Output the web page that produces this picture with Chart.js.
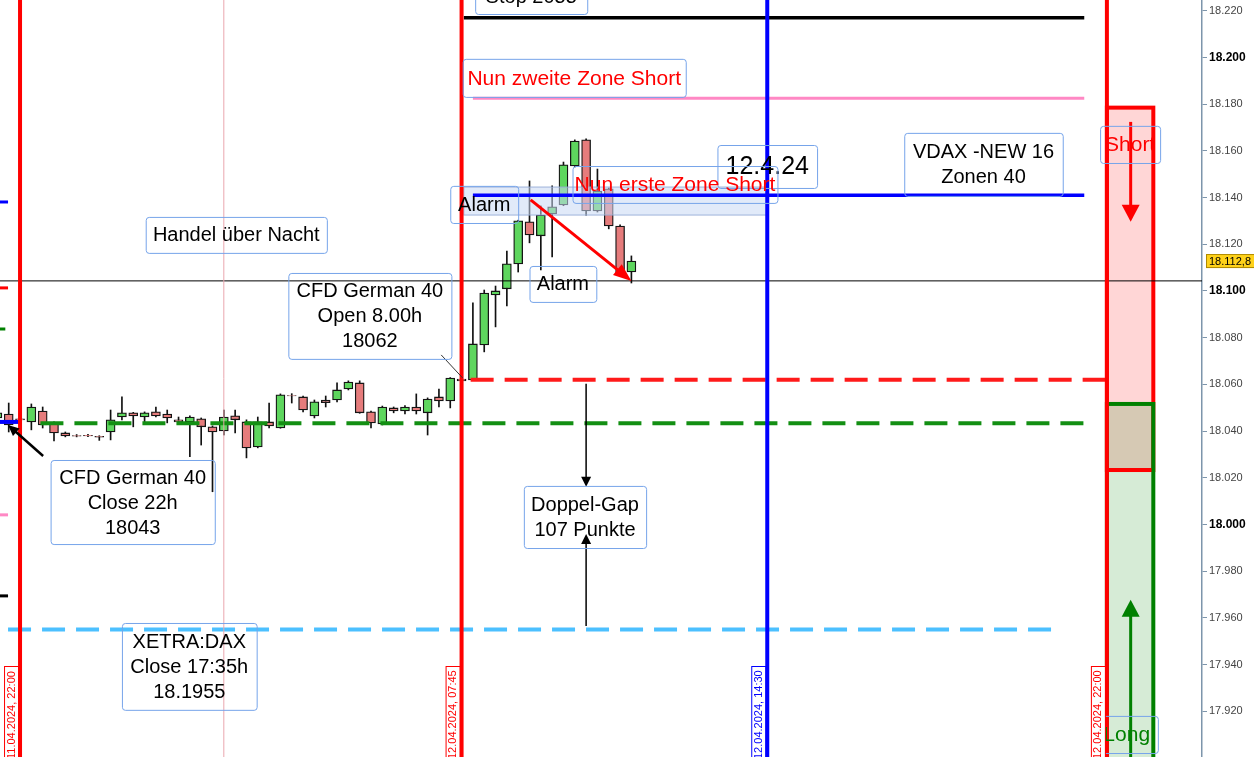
<!DOCTYPE html>
<html lang="de">
<head>
<meta charset="UTF-8">
<title>CFD German 40 – 15 Min</title>
<script src="https://cdn.jsdelivr.net/npm/chart.js"></script>
<style>
  html, body { margin: 0; padding: 0; background: #fff; }
  #wrap { width: 1254px; height: 757px; position: relative; }
</style>
</head>
<body>
<div id="wrap"><canvas id="kurs"></canvas></div>
<script>
// 15-Minuten-Kerzen, Slot 0 = 11.04.2024 22:00
const slots = [-2, -1, 0, 1, 2, 3, 4, 5, 6, 7, 8, 9, 10, 11, 12, 13, 14, 15, 16, 17, 18, 19,
  20, 21, 22, 23, 24, 25, 26, 27, 28, 29, 30, 31, 32, 33, 34, 35, 36, 37, 38, 39,
  40, 41, 42, 43, 44, 45, 46, 47, 48, 49, 50, 51, 52, 53, 54];
const opens = [18045.6, 18047.3, 18045.2, 18043.9, 18048.6, 18043.5, 18039.2, 18038.1, 18038.2, 18037.7,
  18039.6, 18046, 18047.8, 18046, 18048.2, 18047.3, 18044.8, 18043.9, 18045.2, 18041.8, 18040, 18046.5,
  18043.9, 18033.2, 18043.9, 18041.3, 18055.2, 18054.6, 18046.5, 18053.3, 18053.3, 18058, 18060.6, 18048.2,
  18043, 18049.9, 18048.6, 18050.3, 18047.8, 18054.6, 18052.9, 18062.3,
  18061.9, 18076.9, 18098.3, 18100.9, 18111.6, 18129.6, 18123.6, 18133, 18136.8, 18153.5, 18164.7,
  18134.3, 18143.7, 18127.8, 18108.1];
const highs = [18049, 18052, 18045.6, 18051.6, 18050.3, 18043.9, 18039.6, 18038.5, 18038.6, 18038,
  18049, 18054.6, 18048, 18048.2, 18050.3, 18049, 18046, 18046.5, 18045.6, 18042.2, 18049, 18049,
  18044.8, 18046, 18052, 18055.9, 18056, 18055, 18053.3, 18055, 18060.6, 18061.5, 18061.5, 18048.5,
  18050.7, 18050.3, 18050.9, 18055.9, 18054.2, 18058, 18062.9, 18062.7,
  18094.9, 18100.4, 18102.1, 18117.1, 18130.3, 18147.1, 18136.4, 18145, 18155.2, 18164.7, 18165.1,
  18152.2, 18144.1, 18128.3, 18115];
const lows = [18044, 18039.6, 18044.6, 18040.5, 18041.3, 18035.8, 18037.5, 18037.5, 18037.6, 18036,
  18036.2, 18044.8, 18041.8, 18043.9, 18046, 18043.5, 18043.5, 18029, 18034, 18014, 18038.3, 18039.2,
  18028.5, 18032.8, 18041.3, 18041.2, 18052, 18048.2, 18045.6, 18050.3, 18052.5, 18057.6, 18047.6, 18041.3,
  18042.6, 18047.8, 18047.3, 18047.3, 18038.3, 18050.3, 18049.9, 18061.2,
  18061.9, 18073.9, 18084.6, 18093.6, 18108.1, 18120.6, 18109, 18114.6, 18136.5, 18153.1, 18132.5,
  18133.8, 18126.6, 18107.3, 18103.4];
const closes = [18047.8, 18042.6, 18044.8, 18050.3, 18042.6, 18039.2, 18037.9, 18037.8, 18037.9, 18037.4,
  18044.8, 18047.8, 18046.5, 18047.8, 18046.5, 18045.6, 18043.9, 18046, 18041.8, 18039.6, 18046, 18044.8,
  18032.8, 18043.9, 18042.2, 18055.5, 18055, 18049, 18052.5, 18052.2, 18057.6, 18061, 18047.8, 18043.5,
  18050.3, 18048.6, 18050.3, 18048.6, 18053.7, 18052.9, 18062.7, 18061.5,
  18077.3, 18099.1, 18100, 18111.6, 18130, 18124, 18132.5, 18136, 18154, 18164.2, 18134.3,
  18142.8, 18127.8, 18107.7, 18112.8];

// Marken / Zonen
const stopLevel = 18217;
const zone2Level = 18182.5;
const zone1Level = 18141;
const openLevel = 18062;
const closeLevel = 18043.3;
const xetraLevel = 17955;
const markerLevel = 18104.3;
const lastPrice = 18112.8;
const shortZone = [18178.5, 18023.3];
const longZone = [18051.6, 17880];
const alarmZone = [18144.5, 18132.5];

const timeSlots = [0, 39, 66, 96];
const timeLabels = ['11.04.2024, 22:00', '12.04.2024, 07:45', '12.04.2024, 14:30', '12.04.2024, 22:00'];
const tickStep = 20;

const FONT = '"Liberation Sans", Arial, sans-serif';

const bodies = slots.map((s, i) => ({ x: s, y: [opens[i], closes[i]] }));
const wicks = slots.map((s, i) => ({ x: s, y: [lows[i], highs[i]] }));
const bodyColors = slots.map((s, i) => closes[i] >= opens[i] ? '#5ed65e' : '#e67c7c');

// Textfelder in Chart-Koordinaten (Slot / Kurs)
const notes = [
  { s: [40.2, 50.1], p: [18233.9, 18218.6], lines: ['Stop 2055'], color: '#000', size: 20 },
  { s: [39.1, 58.8], p: [18199.4, 18183.1], lines: ['Nun zweite Zone Short'], color: '#ff0000', size: 21 },
  { s: [61.6, 70.4], p: [18162.5, 18144.1], lines: ['12.4.24'], color: '#000', size: 25 },
  { s: [78.1, 92.1], p: [18167.7, 18140.7], lines: ['VDAX -NEW 16', 'Zonen 40'], color: '#000', size: 20 },
  { s: [95.4, 100.7], p: [18170.7, 18154.8], lines: ['Short'], color: '#ff0000', size: 21 },
  { s: [95.0, 100.5], p: [17918, 17902.1], lines: ['Long'], color: '#008000', size: 21 },
  { s: [48.8, 66.9], p: [18153.5, 18137.7], lines: ['Nun erste Zone Short'], color: '#ff0000', size: 21 },
  { s: [38.0, 44.0], p: [18145, 18129.1], lines: ['Alarm'], color: '#000', size: 20 },
  { s: [45.0, 50.9], p: [18110.7, 18095.3], lines: ['Alarm'], color: '#000', size: 20 },
  { s: [11.1, 27.1], p: [18131.7, 18116.3], lines: ['Handel über Nacht'], color: '#000', size: 20 },
  { s: [23.7, 38.1], p: [18107.7, 18070.9], lines: ['CFD German 40', 'Open 8.00h', '18062'], color: '#000', size: 20 },
  { s: [2.7, 17.2], p: [18027.6, 17991.6], lines: ['CFD German 40', 'Close 22h', '18043'], color: '#000', size: 20 },
  { s: [44.5, 55.3], p: [18016.5, 17989.9], lines: ['Doppel-Gap', '107 Punkte'], color: '#000', size: 20 },
  { s: [9.0, 20.9], p: [17957.8, 17920.6], lines: ['XETRA:DAX', 'Close 17:35h', '18.1955'], color: '#000', size: 20 }
];

function arrow(ctx, x1, y1, x2, y2, color, w, head, wide) {
  const a = Math.atan2(y2 - y1, x2 - x1);
  const c = Math.cos(a), s = Math.sin(a);
  ctx.strokeStyle = color;
  ctx.lineWidth = w;
  ctx.beginPath();
  ctx.moveTo(x1, y1);
  ctx.lineTo(x2 - c * head * 0.8, y2 - s * head * 0.8);
  ctx.stroke();
  ctx.fillStyle = color;
  ctx.beginPath();
  ctx.moveTo(x2, y2);
  ctx.lineTo(x2 - head * c + wide * s, y2 - head * s - wide * c);
  ctx.lineTo(x2 - head * c - wide * s, y2 - head * s + wide * c);
  ctx.closePath();
  ctx.fill();
}

const drawings = {
  id: 'drawings',
  afterDatasetsDraw(chart) {
    const ctx = chart.ctx;
    const area = chart.chartArea;
    const X = v => chart.scales.x.getPixelForValue(v);
    const Y = v => chart.scales.y.getPixelForValue(v);
    ctx.save();
    ctx.beginPath();
    ctx.rect(area.left, area.top, area.right - area.left, area.bottom - area.top);
    ctx.clip();

    // Alarmzone
    ctx.fillStyle = 'rgba(200,216,244,0.55)';
    ctx.fillRect(X(39.2), Y(alarmZone[0]), X(66) - X(39.2), Y(alarmZone[1]) - Y(alarmZone[0]));
    ctx.strokeStyle = 'rgba(150,172,214,0.9)';
    ctx.lineWidth = 1;
    ctx.strokeRect(X(39.2), Y(alarmZone[0]), X(66) - X(39.2), Y(alarmZone[1]) - Y(alarmZone[0]));

    // Short- / Long-Box
    const bx1 = X(96), bx2 = X(100.1);
    ctx.fillStyle = 'rgba(255,0,0,0.16)';
    ctx.fillRect(bx1, Y(shortZone[0]), bx2 - bx1, Y(shortZone[1]) - Y(shortZone[0]));
    ctx.strokeStyle = '#ff0000';
    ctx.lineWidth = 4;
    ctx.strokeRect(bx1, Y(shortZone[0]), bx2 - bx1, Y(shortZone[1]) - Y(shortZone[0]));
    ctx.fillStyle = 'rgba(0,128,0,0.16)';
    ctx.fillRect(bx1, Y(longZone[0]), bx2 - bx1, Y(longZone[1]) - Y(longZone[0]));
    ctx.strokeStyle = '#008000';
    ctx.strokeRect(bx1, Y(longZone[0]), bx2 - bx1, Y(longZone[1]) - Y(longZone[0]));
    ctx.strokeStyle = '#ff0000';
    ctx.beginPath();
    ctx.moveTo(bx1, Y(shortZone[1]));
    ctx.lineTo(bx2 - 2, Y(shortZone[1]));
    ctx.stroke();

    // horizontale Linien
    const hline = (p, s1, s2, color, w, dash) => {
      ctx.strokeStyle = color;
      ctx.lineWidth = w;
      ctx.setLineDash(dash || []);
      ctx.beginPath();
      ctx.moveTo(X(s1), Y(p));
      ctx.lineTo(X(s2), Y(p));
      ctx.stroke();
      ctx.setLineDash([]);
    };
    hline(stopLevel, 39.2, 94, '#000', 3.5);
    hline(zone2Level, 40, 94, '#ff88c4', 3);
    hline(zone1Level, 40, 94, '#0000ff', 3.5);
    hline(openLevel, 39.8, 96, '#ff1a1a', 4, [23, 11]);
    hline(closeLevel, 1.8, 94.2, '#138f13', 4, [23, 11]);
    hline(xetraLevel, -1.06, 91.3, '#4cc0ff', 4, [23, 11]);
    hline(markerLevel, -2, 106, '#000', 1);
    hline(closeLevel + 0.6, -2, 0, '#0000ff', 4);
    hline(18138.1, -2, -1.06, '#0000ff', 3);
    hline(18101.3, -2, -1.06, '#ff0000', 3);
    hline(18083.7, -2, -1.3, '#008000', 3);
    hline(18004.1, -2, -1.06, '#ff88c4', 3);
    hline(17969.4, -2, -1.06, '#000', 3);

    // vertikale Linien
    ctx.strokeStyle = '#eaa6ae';
    ctx.lineWidth = 1;
    ctx.beginPath();
    ctx.moveTo(X(18), area.top);
    ctx.lineTo(X(18), area.bottom);
    ctx.stroke();
    timeSlots.forEach((s, i) => {
      ctx.strokeStyle = i === 2 ? '#0000ff' : '#ff0000';
      ctx.lineWidth = 4;
      ctx.beginPath();
      ctx.moveTo(X(s), area.top);
      ctx.lineTo(X(s), area.bottom);
      ctx.stroke();
    });

    // Pfeile
    arrow(ctx, X(2.04), Y(18029.3), X(-1.06), Y(18042.6), '#000', 2.5, 11, 5);
    ctx.strokeStyle = '#333';
    ctx.lineWidth = 1;
    ctx.beginPath();
    ctx.moveTo(X(37.2), Y(18072.6));
    ctx.lineTo(X(39.1), Y(18062.7));
    ctx.stroke();
    arrow(ctx, X(50), Y(18060.2), X(50), Y(18016.1), '#000', 1.5, 10, 5);
    arrow(ctx, X(50), Y(17956.5), X(50), Y(17995.9), '#000', 1.5, 10, 5);
    arrow(ctx, X(45.1), Y(18139), X(54), Y(18104.3), '#ff0000', 3, 18, 7);
    arrow(ctx, X(98.1), Y(18172.4), X(98.1), Y(18129.6), '#ff0000', 3, 17, 9);
    arrow(ctx, X(98.1), Y(17895), X(98.1), Y(17967.7), '#008000', 3, 17, 9);

    // Textfelder
    notes.forEach(n => {
      const x1 = X(n.s[0]), x2 = X(n.s[1]), y1 = Y(n.p[0]), y2 = Y(n.p[1]);
      ctx.strokeStyle = '#76a4ea';
      ctx.lineWidth = 1;
      ctx.beginPath();
      ctx.roundRect(x1 + 0.5, y1 + 0.5, x2 - x1, y2 - y1, 3);
      ctx.stroke();
      ctx.fillStyle = n.color;
      ctx.font = n.size + 'px ' + FONT;
      ctx.textAlign = 'center';
      ctx.textBaseline = 'middle';
      const lh = 25;
      const cy = (y1 + y2) / 2 - (n.lines.length - 1) * lh / 2;
      n.lines.forEach((t, k) => ctx.fillText(t, (x1 + x2) / 2, cy + k * lh + 1));
    });

    // Zeitmarken
    timeSlots.forEach((s, i) => {
      const col = i === 2 ? '#0000ff' : '#ff0000';
      const x = X(s);
      const top = area.bottom - 91;
      ctx.fillStyle = '#fff';
      ctx.fillRect(x - 16, top, 14, 100);
      ctx.strokeStyle = col;
      ctx.lineWidth = 1;
      ctx.strokeRect(x - 15.5, top + 0.5, 14, 100);
      ctx.save();
      ctx.translate(x - 8.5, area.bottom + 2);
      ctx.rotate(-Math.PI / 2);
      ctx.fillStyle = col;
      ctx.font = '11px ' + FONT;
      ctx.textAlign = 'left';
      ctx.textBaseline = 'middle';
      ctx.fillText(timeLabels[i], 0, 0);
      ctx.restore();
    });
    ctx.restore();
  },
  afterDraw(chart) {
    const ctx = chart.ctx;
    const y = chart.scales.y.getPixelForValue(lastPrice);
    const x = chart.chartArea.right + 4;
    ctx.save();
    ctx.fillStyle = '#ffd21a';
    ctx.fillRect(x, y - 7, 50, 14);
    ctx.strokeStyle = '#b08a00';
    ctx.lineWidth = 1;
    ctx.strokeRect(x + 0.5, y - 6.5, 49, 13);
    ctx.fillStyle = '#000';
    ctx.font = '11px ' + FONT;
    ctx.textAlign = 'left';
    ctx.textBaseline = 'middle';
    ctx.fillText(lastPrice.toFixed(1).replace('.', ',').replace(/^(\d{2})(\d{3})/, '$1.$2'), x + 3, y + 0.5);
    ctx.restore();
  }
};

new Chart(document.getElementById('kurs'), {
  type: 'bar',
  data: {
    datasets: [
      {
        label: 'Docht',
        data: wicks,
        backgroundColor: '#111',
        borderWidth: 0,
        barThickness: 1,
        grouped: false,
        order: 2
      },
      {
        label: 'Kerze',
        data: bodies,
        backgroundColor: bodyColors,
        borderColor: '#151515',
        borderWidth: 1.3,
        borderSkipped: false,
        barThickness: 9,
        grouped: false,
        order: 1
      }
    ]
  },
  options: {
    responsive: true,
    maintainAspectRatio: false,
    animation: false,
    layout: { padding: 0 },
    plugins: { legend: { display: false }, tooltip: { enabled: false } },
    scales: {
      x: { type: 'linear', min: -1.77, max: 104.4, display: false, offset: false },
      y: {
        position: 'right',
        min: 17900.4,
        max: 18224.6,
        grid: { drawOnChartArea: false, drawTicks: true, tickLength: 5, color: '#7d95ab' },
        border: { color: '#7d95ab', width: 1.5 },
        ticks: {
          stepSize: tickStep,
          includeBounds: false,
          padding: 2,
          callback: v => (v / 1000).toFixed(3),
          color: c => c.tick && c.tick.value % 100 === 0 ? '#000' : '#444',
          font: c => c.tick && c.tick.value % 100 === 0
            ? { family: FONT, size: 12, weight: 'bold' }
            : { family: FONT, size: 11 }
        },
        afterFit: s => { s.width = 52; s.paddingTop = 0; s.paddingBottom = 0; }
      }
    }
  },
  plugins: [drawings]
});
</script>
</body>
</html>
